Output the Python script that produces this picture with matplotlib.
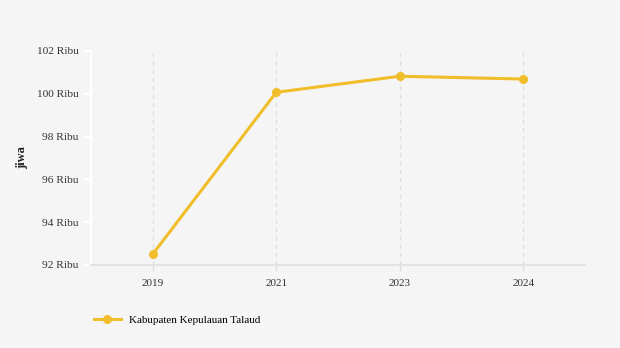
import matplotlib.pyplot as plt
from matplotlib.lines import Line2D

plt.rcParams['font.family'] = ['Liberation Serif', 'DejaVu Serif']

# Data
tahun = ['2019', '2021', '2023', '2024']
jiwa_ribu = [92.51, 100.07, 100.82, 100.69]
y_ticks = [92, 94, 96, 98, 100, 102]
y_labels = [f'{v} Ribu' for v in y_ticks]
seri = 'Kabupaten Kepulauan Talaud'

warna = '#F0BE2A'
bg = '#F5F5F5'

fig = plt.figure(figsize=(6.2, 3.48), dpi=100, facecolor=bg)
ax = fig.add_axes([91/620, 1-265/348, (585-91)/620, (265-51)/348], facecolor=bg)

x = list(range(len(tahun)))
ax.plot(x, jiwa_ribu, color=warna, lw=2.2, marker='o', ms=5.5, zorder=3, clip_on=False)

ax.set_xlim(-0.5, len(tahun) - 0.5)
ax.set_ylim(92, 102)
ax.set_xticks(x)
ax.set_xticklabels(tahun, fontsize=8, color='#333333')
ax.set_yticks(y_ticks)
ax.set_yticklabels(y_labels, fontsize=8.2, color='#333333')

# grid vertikal putus-putus
ax.grid(axis='x', color='#DDDDDD', ls=(0, (3, 3)), lw=1)
ax.grid(axis='y', visible=False)

for s in ['top', 'right']:
    ax.spines[s].set_visible(False)
ax.spines['left'].set_color('white')
ax.spines['left'].set_linewidth(1.5)
ax.spines['bottom'].set_color('#E3E3E3')
ax.spines['bottom'].set_linewidth(1.5)

ax.tick_params(axis='y', color='white', length=5, width=1.5, pad=4)
ax.tick_params(axis='x', color='#DDDDDD', length=4, width=1, pad=6)

fig.text(22/620, 1-158/348, 'jiwa', rotation=90, ha='center', va='center',
         fontsize=9, fontweight='bold', color='#222222')

# legenda di bawah
handle = Line2D([], [], color=warna, lw=2.2, marker='o', ms=5.5)
fig.legend([handle], [seri], loc='center left', bbox_to_anchor=(84/620, 1-320/348),
           frameon=False, fontsize=8, handlelength=2.4, handletextpad=0.75)

fig.savefig('out.png', dpi=100, facecolor=bg)
